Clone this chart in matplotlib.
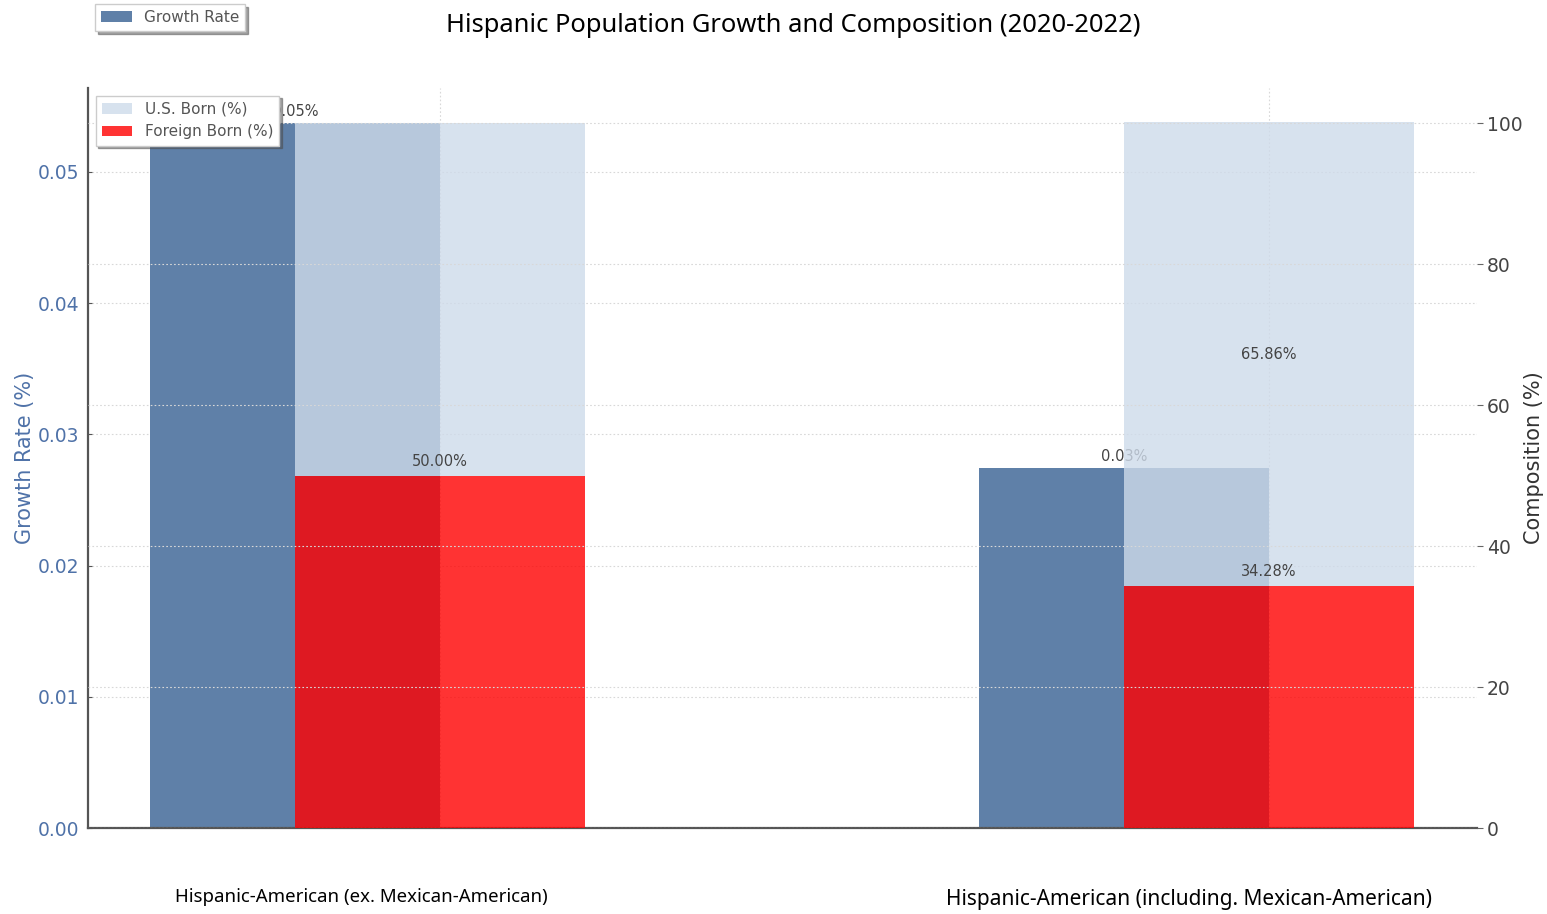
import numpy as np
import matplotlib
matplotlib.use("Agg")
import matplotlib.pyplot as plt

categories = ["Hispanic-American (ex. Mexican-American)",
              "Hispanic-American (including. Mexican-American)"]
growth_rate = [0.0537, 0.0274]
us_born = [50.00, 65.86]
foreign_born = [50.00, 34.28]
growth_labels = ["0.05%", "0.03%"]

plt.rcParams['font.family'] = ['DejaVu Sans']

fig = plt.figure(figsize=(15.47, 9.14), dpi=100)
ax1 = fig.add_axes([88/1547, 1-828/914, (1477-88)/1547, (828-88)/914])
ax2 = ax1.twinx()

x = np.arange(len(categories))
w = 0.35
blue = '#5f80a8'

b1 = ax1.bar(x - w/2, growth_rate, w, color=blue, label='Growth Rate', zorder=2)
for xi, g, lab in zip(x, growth_rate, growth_labels):
    ax1.text(xi - w/2, g + 0.0003, lab, ha='center', va='bottom', fontsize=10.5, color='#444444')

b3 = ax2.bar(x, foreign_born, w, color='#ff0000', alpha=0.8, label='Foreign Born (%)')
b2 = ax2.bar(x, us_born, w, bottom=foreign_born, color='#cedbea', alpha=0.8,
             label='U.S. Born (%)')
for xi, f in zip(x, foreign_born):
    ax2.text(xi, f + 1, f"{f:.2f}%", ha='center', va='bottom', fontsize=10.5, color='#444444')
ax2.text(x[1], foreign_born[1] + us_born[1]/2, f"{us_born[1]:.2f}%", ha='center', va='center',
         fontsize=10.5, color='#444444')

ax1.set_ylim(0, max(growth_rate) * 1.05)
ax2.set_ylim(0, 105)
ax1.set_xlim(-0.4246, 1.251)
ax1.set_yticks([0, 0.01, 0.02, 0.03, 0.04, 0.05])
ax2.set_yticks([0, 20, 40, 60, 80, 100])
ax1.set_xticks(x)
ax1.set_xticklabels([])

ax1.grid(True, linestyle=(0, (1.5, 2)), color='#d8d8d8', linewidth=0.8, zorder=0)
ax2.grid(True, axis='y', linestyle=(0, (1.5, 2)), color='#d8d8d8', linewidth=0.8)
ax1.set_axisbelow(True)

for sp in ['top', 'right']:
    ax1.spines[sp].set_visible(False)
for sp in ['top', 'right', 'left', 'bottom']:
    ax2.spines[sp].set_visible(False)
ax1.spines['left'].set_color('#555555')
ax1.spines['left'].set_linewidth(1.6)
ax1.spines['bottom'].set_color('#555555')
ax1.spines['bottom'].set_linewidth(1.6)

ax1.tick_params(axis='y', colors='#4f72a8', labelsize=13.5, length=3, direction='in', pad=6)
ax1.tick_params(axis='y', color='#555555')
ax1.tick_params(axis='x', length=0)
ax2.tick_params(axis='y', colors='#444444', labelsize=13.5, length=4, pad=3)
ax2.tick_params(axis='y', color='#666666')

ax1.set_ylabel('Growth Rate (%)', color='#4f72a8', fontsize=15, labelpad=2)
ax2.set_ylabel('Composition (%)', color='#333333', fontsize=15, labelpad=1)

fig.text(793/1547, 1-26/914, 'Hispanic Population Growth and Composition (2020-2022)',
         ha='center', va='center', fontsize=18.4, family='Noto Sans')
fig.text(361/1547, 1-897/914, categories[0], ha='center', va='center', fontsize=13.4,
         family='Noto Sans')
fig.text(1189/1547, 1-899/914, categories[1], ha='center', va='center', fontsize=15,
         family='Noto Sans')

leg1 = fig.legend(handles=[b1], loc='upper left', bbox_to_anchor=(95/1547, 1-4/914),
                  borderaxespad=0, shadow=True, fancybox=False, fontsize=11,
                  labelcolor='#555555', framealpha=1)
leg2 = ax2.legend(handles=[b2, b3], loc='upper left', shadow=True, fancybox=False,
                  fontsize=11, labelcolor='#555555', framealpha=1)

fig.savefig('out.png', dpi=100)
